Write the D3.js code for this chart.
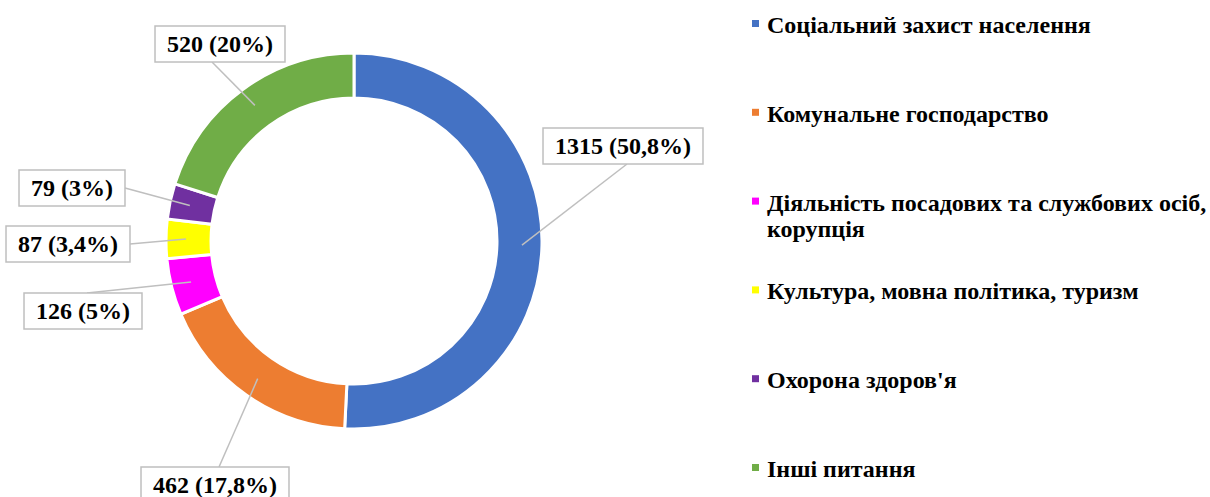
<!DOCTYPE html>
<html>
<head>
<meta charset="utf-8">
<script src="https://cdn.jsdelivr.net/npm/d3@7"></script>
<style>
  body { margin: 0; background: #fff; }
  text { font-family: "Liberation Serif", "Times New Roman", serif; font-weight: bold; }
</style>
</head>
<body>
<script>
// data
var categories = [
  "Соціальний захист населення",
  "Комунальне господарство",
  "Діяльність посадових та службових осіб, корупція",
  "Культура, мовна політика, туризм",
  "Охорона здоров'я",
  "Інші питання"
];
var values = [1315, 462, 126, 87, 79, 520];
var pctLabels = ["50,8", "17,8", "5", "3,4", "3", "20"];
var colors = ["#4472C4", "#ED7D31", "#FF00FF", "#FFFF00", "#7030A0", "#70AD47"];

var svgWidth = 1210;
var svgHeight = 497;

var cx = 354, cy = 241;
var outerR = 188, innerR = 143;

// where Excel left each data label (box centre, relative to the donut centre)
var labelOffset = [[269, -95], [-139, 244], [-271, 70], [-286, 3], [-282, -53], [-134, -197]];

var svg = d3.select("body")
  .append("svg")
  .attr("width", svgWidth)
  .attr("height", svgHeight);

var chartGroup = svg.append("g")
  .attr("transform", `translate(${cx},${cy})`);

var pie = d3.pie().sort(null).value(function(d){ return d; });
var arcs = pie(values);

var arc = d3.arc().innerRadius(innerR).outerRadius(outerR);

chartGroup.selectAll("path.slice")
  .data(arcs)
  .enter()
  .append("path")
  .attr("class", "slice")
  .attr("d", arc)
  .attr("fill", function(d, i){ return colors[i]; })
  .attr("stroke", "#fff")
  .attr("stroke-width", 3);

// labels with leader lines
var labelGroup = chartGroup.append("g");
var leaderR = 168;

arcs.forEach(function(d, i) {
  var mid = (d.startAngle + d.endAngle) / 2;
  var tx = leaderR * Math.sin(mid);
  var ty = -leaderR * Math.cos(mid);
  var lx = labelOffset[i][0], ly = labelOffset[i][1];

  var g = labelGroup.append("g");
  var txt = g.append("text")
    .attr("x", lx)
    .attr("y", ly)
    .attr("text-anchor", "middle")
    .attr("dominant-baseline", "central")
    .attr("font-size", 24)
    .attr("fill", "#000")
    .text(values[i] + " (" + pctLabels[i] + "%)");
  var w = txt.node().getComputedTextLength() + 24;
  var h = 36;

  // start of the leader on the box edge
  var sx, sy;
  if (ty > ly + h / 2 && Math.abs(tx - lx) < w) { sx = lx; sy = ly + h / 2; }
  else if (ty < ly - h / 2 && Math.abs(tx - lx) < w) { sx = lx - 8; sy = ly + h / 2; }
  else if (tx > lx) { sx = lx + w / 2; sy = ly; }
  else { sx = lx - w / 2; sy = ly; }
  if (ty > ly + h / 2 && Math.abs(tx - lx) < w && tx < lx) { sx = lx + 4; }
  if (ty > ly + h / 2 && tx > lx) { sx = lx - 8; }
  if (ty < ly - h / 2) { sy = ly - h / 2; sx = lx + 4; }

  g.insert("line", "text")
    .attr("x1", sx).attr("y1", sy)
    .attr("x2", tx).attr("y2", ty)
    .attr("stroke", "#BFBFBF")
    .attr("stroke-width", 1.5);

  g.insert("rect", "text")
    .attr("x", lx - w / 2)
    .attr("y", ly - h / 2)
    .attr("width", w)
    .attr("height", h)
    .attr("fill", "#fff")
    .attr("stroke", "#BFBFBF")
    .attr("stroke-width", 1.5);
});

// legend
var legendY = d3.scaleLinear().domain([0, categories.length - 1]).range([33, 477]);
var legendX = 767;
var legend = svg.append("g");

categories.forEach(function(name, i) {
  var y = legendY(i);
  legend.append("rect")
    .attr("x", legendX - 15)
    .attr("y", y - 13)
    .attr("width", 7)
    .attr("height", 7)
    .attr("fill", colors[i]);

  var t = legend.append("text")
    .attr("x", legendX)
    .attr("y", y)
    .attr("font-size", 24)
    .attr("fill", "#000");

  // simple word wrap
  var words = name.split(" ");
  var line = [];
  var tspan = t.append("tspan").attr("x", legendX).attr("y", y);
  words.forEach(function(word) {
    line.push(word);
    tspan.text(line.join(" "));
    if (tspan.node().getComputedTextLength() > 450 && line.length > 1) {
      line.pop();
      tspan.text(line.join(" "));
      line = [word];
      tspan = t.append("tspan").attr("x", legendX).attr("dy", 26).text(word);
    }
  });
});
</script>
</body>
</html>
